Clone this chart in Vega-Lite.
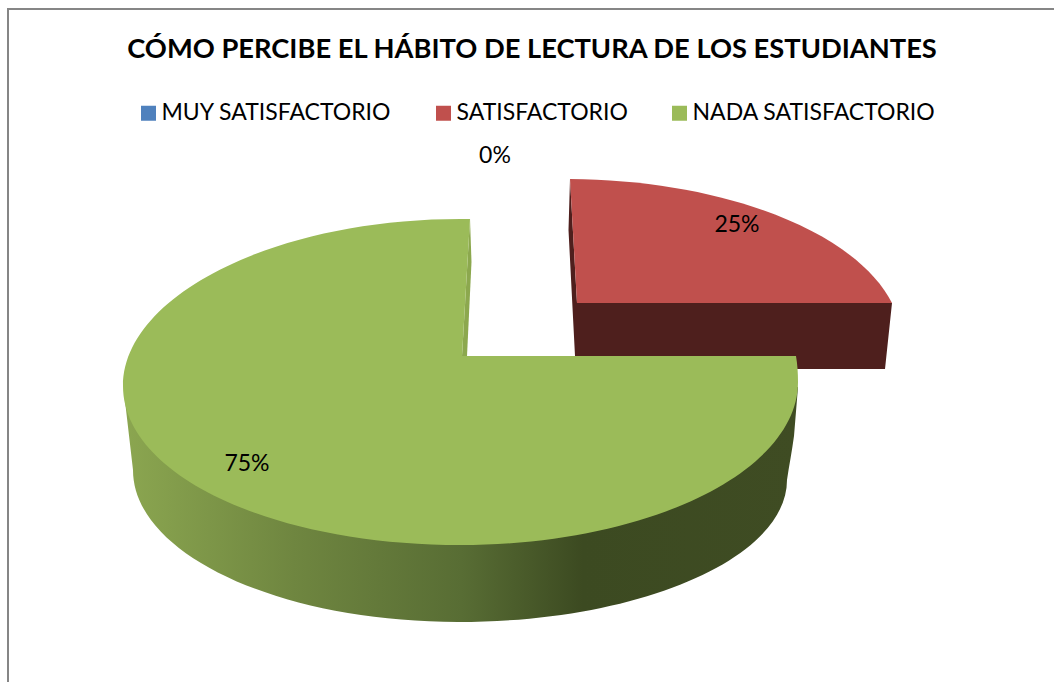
{"$schema":"https://vega.github.io/schema/vega-lite/v6.json","width":1054,"height":682,"padding":0,"autosize":{"type":"none"},"background":"white","config":{"view":{"stroke":null},"font":"Lato"},
"title":{"text":"CÓMO PERCIBE EL HÁBITO DE LECTURA DE LOS ESTUDIANTES","font":"Lato","fontSize":27.3,"fontWeight":"bold","color":"#000000","anchor":"middle","frame":"group","baseline":"alphabetic","offset":-85,"dx":5},
"data":{"values":[{"categoria":"MUY SATISFACTORIO","porcentaje":0},{"categoria":"SATISFACTORIO","porcentaje":0.25},{"categoria":"NADA SATISFACTORIO","porcentaje":0.75}]},
"layer":[
{"transform":[{"filter":"datum.categoria === 'MUY SATISFACTORIO'"}],"mark":{"type":"point","filled":false,"size":4,"opacity":1,"fill":null,"stroke":"#868686","strokeWidth":2,"shape":"M-519,341L-519,-332L527,-332"}},
{"transform":[{"filter":"datum.categoria === 'SATISFACTORIO'"}],"mark":{"type":"point","filled":true,"size":4,"opacity":1,"fill":"#4E1F1D","stroke":null,"shape":"M43,-162L41.5,-111L48,15L48,28L358,28L365,-38L50,-38Z"}},
{"transform":[{"filter":"datum.categoria === 'NADA SATISFACTORIO'"}],"mark":{"type":"point","filled":true,"size":4,"opacity":1,"stroke":null,"fill":"#8CA84E","shape":"M-57,-122L-55.5,-79L-60,15L-65,15Z"}},
{"transform":[{"filter":"datum.categoria === 'NADA SATISFACTORIO'"}],"mark":{"type":"point","filled":true,"size":4,"opacity":1,"stroke":null,"fill":{"gradient":"linear","x1":0,"y1":0,"x2":1,"y2":0,"stops":[{"offset":0,"color":"#8BA650"},{"offset":0.25,"color":"#6F8640"},{"offset":0.5,"color":"#586D34"},{"offset":0.68,"color":"#3C4A21"},{"offset":1,"color":"#3F4C23"}]},"shape":"M-402,60L-394,129C-394,213,-248.5,281,-69,281C113,281,260,217,260,139C262,125,265,110,267,95L271,46Z"}},
{"mark":{"type":"square","size":0,"opacity":1,"stroke":null},"encoding":{
"color":{"field":"categoria","type":"nominal","sort":null,"scale":{"domain":["MUY SATISFACTORIO","SATISFACTORIO","NADA SATISFACTORIO"],"range":["#4F81BD","#C0504D","#9BBB59"]},"legend":{"title":null,"orient":"none","legendX":137,"legendY":101.5,"direction":"horizontal","columns":3,"symbolType":"square","symbolSize":225,"symbolStrokeWidth":0,"labelFont":"Lato","labelFontSize":23,"labelColor":"#000000","labelOffset":1.5,"columnPadding":40,"padding":0,"labelLimit":400}}}},
{"transform":[{"filter":"datum.categoria === 'SATISFACTORIO'"}],"mark":{"type":"point","filled":true,"size":4,"opacity":1,"stroke":null,"fill":"#C0504D","shape":"M50,-38L43,-162A337,163,0,0,1,365,-38Z"}},
{"transform":[{"filter":"datum.categoria === 'NADA SATISFACTORIO'"}],"mark":{"type":"point","filled":true,"size":4,"opacity":1,"stroke":null,"fill":"#9BBB59","shape":"M269,15C270.5,24,271,32,271,41C271,131,120,204,-66.5,204C-253,204,-404,135,-404,45C-404,-45,-253,-122,-66.5,-122L-57,-122L-65,15Z"}},
{"transform":[{"filter":"datum.porcentaje === 0"}],"mark":{"type":"text","font":"Lato","fontSize":23,"color":"#000000","dx":-32,"dy":-185,"align":"center","baseline":"middle"},"encoding":{"text":{"field":"porcentaje","type":"quantitative","format":".0%"}}},
{"transform":[{"filter":"datum.porcentaje === 0.25"}],"mark":{"type":"text","font":"Lato","fontSize":23,"color":"#000000","dx":210,"dy":-116,"align":"center","baseline":"middle"},"encoding":{"text":{"field":"porcentaje","type":"quantitative","format":".0%"}}},
{"transform":[{"filter":"datum.porcentaje === 0.75"}],"mark":{"type":"text","font":"Lato","fontSize":23,"color":"#000000","dx":-280,"dy":123,"align":"center","baseline":"middle"},"encoding":{"text":{"field":"porcentaje","type":"quantitative","format":".0%"}}}
]}
